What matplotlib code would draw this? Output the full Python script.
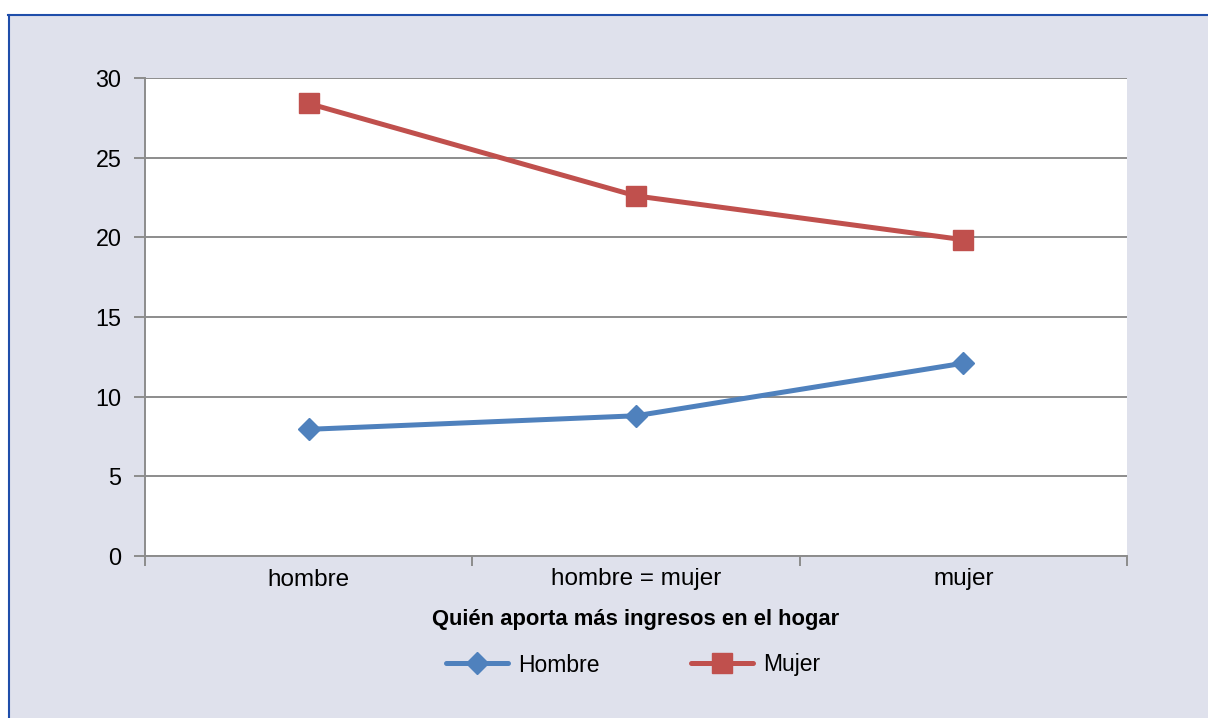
import numpy as np
import matplotlib.pyplot as plt
from matplotlib.patches import Rectangle
from matplotlib.lines import Line2D

# datos
categorias = ['hombre', 'hombre = mujer', 'mujer']
hombre = [7.95, 8.8, 12.1]
mujer = [28.4, 22.6, 19.85]
yticks = [0, 5, 10, 15, 20, 25, 30]

plt.rcParams['font.family'] = ['Liberation Sans', 'DejaVu Sans']

W, H = 1208, 718
fig = plt.figure(figsize=(W / 100, H / 100), dpi=100)
fig.patch.set_facecolor('white')

# fondo y marco del grafico
fondo = '#DFE1EC'
azul_marco = '#1F4EAA'
fig.patches.append(Rectangle((9 / W, 0), 1 - 9 / W, (H - 15) / H, transform=fig.transFigure,
                             facecolor=fondo, edgecolor='none', zorder=-10))
fig.lines.append(Line2D([8 / W, 1], [(H - 15) / H] * 2, transform=fig.transFigure,
                        color=azul_marco, lw=1.5, zorder=-5))
fig.lines.append(Line2D([9 / W] * 2, [0, (H - 15) / H], transform=fig.transFigure,
                        color=azul_marco, lw=1.5, zorder=-5))

ax = fig.add_axes([145 / W, (H - 556) / H, 982 / W, 478 / H])
ax.set_zorder(1)
ax.set_facecolor('white')

x = np.arange(len(categorias))
ax.plot(x, hombre, color='#4F81BD', lw=3.6, marker='D', markersize=11,
        label='Hombre', zorder=3, solid_capstyle='round')
ax.plot(x, mujer, color='#C0504D', lw=3.6, marker='s', markersize=15,
        label='Mujer', zorder=3, solid_capstyle='round')

ax.set_xlim(-0.5, len(categorias) - 0.5)
ax.set_ylim(0, 30)
ax.set_yticks(yticks)
ax.yaxis.grid(True, color='#8C8C8C', lw=1.4)
ax.set_axisbelow(True)

# marcas entre categorias, etiquetas centradas
ax.set_xticks(np.arange(-0.5, len(categorias)))
ax.set_xticklabels([])
ax.set_xticks(x, minor=True)
ax.set_xticklabels(categorias, minor=True)
ax.tick_params(axis='x', which='major', length=7, color='#8C8C8C', width=1.4)
ax.tick_params(axis='x', which='minor', length=0, labelsize=17.5, pad=9)
ax.tick_params(axis='y', length=8, color='#8C8C8C', width=1.4, labelsize=16.8, pad=9)

for s in ['top', 'right']:
    ax.spines[s].set_visible(False)
for s in ['left', 'bottom']:
    ax.spines[s].set_color('#8C8C8C')
    ax.spines[s].set_linewidth(1.4)

ax.set_xlabel('Quién aporta más ingresos en el hogar', fontsize=15.8,
              fontweight='bold', labelpad=13)

fig.legend(loc='center', bbox_to_anchor=(633 / W, (H - 665) / H), ncol=2,
           frameon=False, fontsize=16.5, handlelength=2.7, columnspacing=4.0,
           handletextpad=0.45)

fig.savefig('out.png', dpi=100, facecolor=fig.get_facecolor())
